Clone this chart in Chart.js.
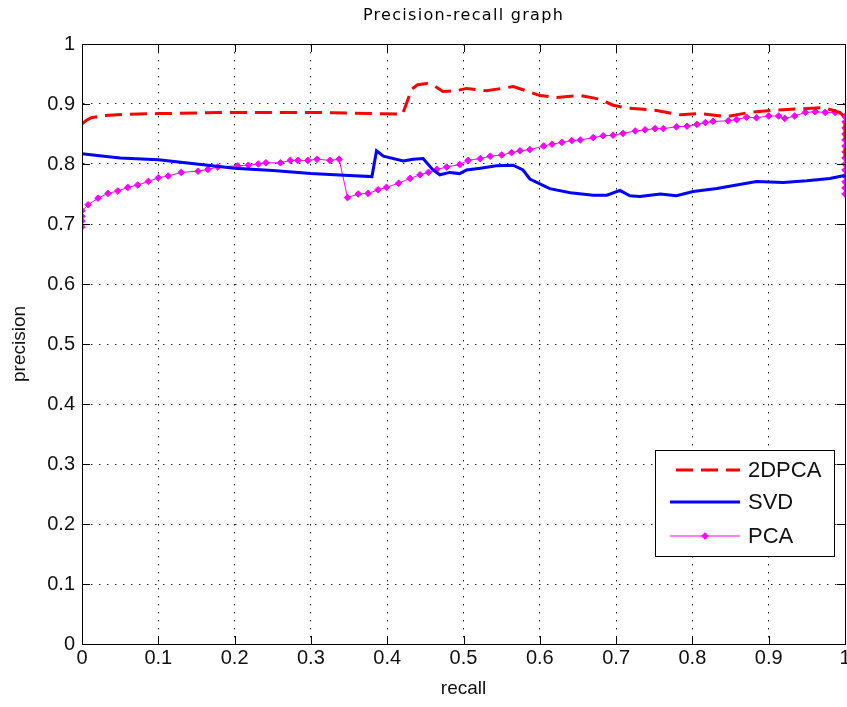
<!DOCTYPE html>
<html>
<head>
<meta charset="utf-8">
<title>Precision-recall graph</title>
<script src="https://cdn.jsdelivr.net/npm/chart.js"></script>
<style>
    html, body { margin: 0; padding: 0; background: #fff; }
    #wrap { position: relative; width: 847px; height: 707px; }
</style>
</head>
<body>
<div id="wrap"><canvas id="pr"></canvas></div>
<script>
// values
const recall2d = [0, 0.005, 0.012, 0.03, 0.06, 0.1, 0.15, 0.2, 0.25, 0.3, 0.35, 0.38, 0.42, 0.425, 0.432, 0.44, 0.452, 0.462, 0.473, 0.49, 0.504, 0.53, 0.55, 0.565, 0.587, 0.6, 0.622, 0.653, 0.679, 0.696, 0.714, 0.74, 0.753, 0.784, 0.81, 0.845, 0.875, 0.91, 0.941, 0.972, 0.993, 1, 1];
const prec2d   = [0.867, 0.872, 0.877, 0.881, 0.883, 0.884, 0.885, 0.886, 0.886, 0.886, 0.885, 0.884, 0.883, 0.9, 0.925, 0.932, 0.934, 0.93, 0.921, 0.922, 0.926, 0.922, 0.926, 0.929, 0.92, 0.914, 0.911, 0.914, 0.908, 0.898, 0.893, 0.891, 0.889, 0.882, 0.884, 0.879, 0.886, 0.89, 0.892, 0.894, 0.886, 0.878, 0.81];

const recallSvd = [0, 0.02, 0.05, 0.1, 0.15, 0.2, 0.25, 0.3, 0.35, 0.38, 0.386, 0.395, 0.421, 0.434, 0.447, 0.46, 0.469, 0.482, 0.495, 0.504, 0.522, 0.543, 0.565, 0.578, 0.587, 0.613, 0.64, 0.67, 0.688, 0.705, 0.718, 0.731, 0.758, 0.779, 0.801, 0.832, 0.858, 0.884, 0.919, 0.95, 0.98, 0.996, 1];
const precSvd   = [0.817, 0.814, 0.81, 0.807, 0.8, 0.793, 0.789, 0.784, 0.781, 0.779, 0.822, 0.813, 0.805, 0.808, 0.809, 0.79, 0.782, 0.786, 0.784, 0.79, 0.793, 0.797, 0.798, 0.79, 0.775, 0.759, 0.752, 0.748, 0.748, 0.756, 0.747, 0.746, 0.75, 0.747, 0.754, 0.759, 0.765, 0.771, 0.769, 0.772, 0.776, 0.78, 0.78];

const recallPca = [0, 0, 0, 0, 0.008, 0.021, 0.034, 0.047, 0.06, 0.073, 0.087, 0.1, 0.113, 0.13, 0.152, 0.165, 0.178, 0.204, 0.218, 0.231, 0.241, 0.26, 0.273, 0.283, 0.296, 0.308, 0.325, 0.337, 0.348, 0.362, 0.375, 0.388, 0.399, 0.415, 0.43, 0.443, 0.454, 0.465, 0.478, 0.495, 0.506, 0.522, 0.535, 0.55, 0.563, 0.574, 0.587, 0.605, 0.616, 0.629, 0.642, 0.653, 0.67, 0.683, 0.696, 0.709, 0.725, 0.738, 0.751, 0.762, 0.779, 0.793, 0.806, 0.817, 0.827, 0.847, 0.858, 0.871, 0.884, 0.9, 0.913, 0.921, 0.934, 0.948, 0.961, 0.974, 0.987, 1,
                   1, 1, 1, 1, 1, 1, 1, 1, 1, 1, 1, 1, 1];
const precPca   = [0.695, 0.705, 0.713, 0.722, 0.732, 0.743, 0.751, 0.755, 0.761, 0.765, 0.771, 0.777, 0.78, 0.786, 0.788, 0.791, 0.795, 0.797, 0.798, 0.8, 0.802, 0.802, 0.806, 0.806, 0.806, 0.808, 0.806, 0.808, 0.744, 0.75, 0.751, 0.757, 0.761, 0.768, 0.776, 0.782, 0.786, 0.791, 0.795, 0.799, 0.806, 0.809, 0.813, 0.815, 0.819, 0.822, 0.824, 0.83, 0.833, 0.836, 0.839, 0.84, 0.844, 0.847, 0.848, 0.851, 0.855, 0.857, 0.859, 0.859, 0.862, 0.863, 0.866, 0.869, 0.871, 0.872, 0.874, 0.878, 0.877, 0.88, 0.88, 0.876, 0.88, 0.886, 0.887, 0.886, 0.886, 0.879,
                   0.87, 0.86, 0.85, 0.84, 0.83, 0.82, 0.81, 0.8, 0.79, 0.78, 0.77, 0.76, 0.75];

const seriesNames = ['2DPCA', 'SVD', 'PCA'];
const tickValues = [0, 0.1, 0.2, 0.3, 0.4, 0.5, 0.6, 0.7, 0.8, 0.9, 1];

function pts(xs, ys) {
    return xs.map((x, i) => ({x: x, y: ys[i]}));
}

const FONT = '"Liberation Sans", Arial, Helvetica, sans-serif';
const noPad = () => ({left: 0, right: 0, top: 0, bottom: 0});

// title drawn by hand so it can get a bit of letter spacing like the original
const titlePlugin = {
    id: 'mTitle',
    afterDraw(chart) {
        const ctx = chart.ctx;
        const a = chart.chartArea;
        ctx.save();
        ctx.font = '16px "DejaVu Sans", sans-serif';
        ctx.letterSpacing = '1.3px';
        ctx.fillStyle = '#000';
        ctx.textAlign = 'center';
        ctx.textBaseline = 'alphabetic';
        ctx.fillText('Precision-recall graph', (a.left + a.right) / 2, 20);
        ctx.restore();
    }
};

// box round the axes and inward ticks on all four sides
const boxPlugin = {
    id: 'mBox',
    afterDatasetsDraw(chart) {
        const ctx = chart.ctx;
        const a = chart.chartArea;
        const xs = chart.scales.x, ys = chart.scales.y;
        const tl = 8;
        ctx.save();
        ctx.strokeStyle = '#000';
        ctx.lineWidth = 1;
        ctx.setLineDash([]);
        ctx.beginPath();
        tickValues.forEach(v => {
            const px = Math.round(xs.getPixelForValue(v)) + 0.5;
            ctx.moveTo(px, a.bottom); ctx.lineTo(px, a.bottom - tl);
            ctx.moveTo(px, a.top); ctx.lineTo(px, a.top + tl);
            const py = Math.round(ys.getPixelForValue(v)) + 0.5;
            ctx.moveTo(a.left, py); ctx.lineTo(a.left + tl, py);
            ctx.moveTo(a.right, py); ctx.lineTo(a.right - tl, py);
        });
        ctx.stroke();
        ctx.strokeRect(Math.round(a.left) + 0.5, Math.round(a.top) + 0.5,
                       Math.round(a.right - a.left), Math.round(a.bottom - a.top));
        ctx.restore();
    }
};

// matlab style legend box in the lower right of the axes
const legendPlugin = {
    id: 'mLegend',
    afterDraw(chart) {
        const ctx = chart.ctx;
        const x0 = 655, y0 = 450, w = 179, h = 106;
        const rows = [20, 52, 86];
        ctx.save();
        ctx.fillStyle = '#fff';
        ctx.fillRect(x0, y0, w, h);
        ctx.strokeStyle = '#000';
        ctx.lineWidth = 1;
        ctx.strokeRect(x0 + 0.5, y0 + 0.5, w, h);
        chart.data.datasets.forEach((ds, i) => {
            const y = y0 + rows[i];
            ctx.save();
            ctx.strokeStyle = ds.borderColor;
            ctx.lineWidth = ds.borderWidth;
            ctx.setLineDash(ds.borderDash || []);
            ctx.lineDashOffset = -6;
            ctx.beginPath();
            ctx.moveTo(670, y);
            ctx.lineTo(740, y);
            ctx.stroke();
            ctx.restore();
            if (ds.pointRadius > 0) {
                ctx.fillStyle = ds.pointBackgroundColor;
                ctx.strokeStyle = ds.pointBorderColor;
                ctx.lineWidth = 1;
                Chart.helpers.drawPoint(ctx, {pointStyle: ds.pointStyle, radius: ds.pointRadius, borderWidth: 1, rotation: 0}, 705, y);
            }
            ctx.fillStyle = '#111';
            ctx.font = '22px ' + FONT;
            ctx.textBaseline = 'middle';
            ctx.textAlign = 'left';
            ctx.fillText(ds.label, 748, y + 1);
        });
        ctx.restore();
    }
};

const bgPlugin = {
    id: 'bg',
    beforeDraw(chart) {
        const ctx = chart.ctx;
        ctx.save();
        ctx.fillStyle = '#fff';
        ctx.fillRect(0, 0, chart.width, chart.height);
        ctx.restore();
    }
};

const gridOpts = {color: '#222', lineWidth: 1, drawTicks: false};
const borderOpts = {display: true, color: '#000', width: 1, dash: [1.5, 6.5]};

new Chart(document.getElementById('pr'), {
    type: 'scatter',
    data: {
        datasets: [
            {
                label: seriesNames[0],
                data: pts(recall2d, prec2d),
                showLine: true,
                borderColor: '#ff0000',
                borderWidth: 3,
                borderDash: [17, 8],
                pointRadius: 0,
                pointHoverRadius: 0,
                tension: 0
            },
            {
                label: seriesNames[1],
                data: pts(recallSvd, precSvd),
                showLine: true,
                borderColor: '#0000ff',
                borderWidth: 3,
                pointRadius: 0,
                pointHoverRadius: 0,
                tension: 0
            },
            {
                label: seriesNames[2],
                data: pts(recallPca, precPca),
                showLine: true,
                borderColor: '#ff00ff',
                borderWidth: 1,
                pointStyle: 'rectRot',
                pointRadius: 3.3,
                pointBorderWidth: 1,
                pointBackgroundColor: '#ff00ff',
                pointBorderColor: '#ff00ff',
                tension: 0
            }
        ]
    },
    options: {
        responsive: true,
        maintainAspectRatio: false,
        animation: false,
        layout: {autoPadding: false, padding: {left: 0, right: 2, top: 44, bottom: 0}},
        plugins: {
            legend: {display: false},
            title: {display: false},
            tooltip: {enabled: false}
        },
        scales: {
            x: {
                type: 'linear',
                min: 0, max: 1,
                grid: gridOpts,
                border: borderOpts,
                afterFit(s) { s.height = 63; s.paddingLeft = 0; s.paddingRight = 0; s.getPadding = noPad; },
                afterBuildTicks(s) { s.ticks = tickValues.map(v => ({value: v})); },
                ticks: {
                    color: '#111',
                    font: {family: FONT, size: 20},
                    padding: 2,
                    maxRotation: 0,
                    autoSkip: false,
                    callback: v => String(Math.round(v * 10) / 10)
                },
                title: {
                    display: true,
                    text: 'recall',
                    color: '#111',
                    font: {family: FONT, size: 19},
                    padding: {top: 2, bottom: 7}
                }
            },
            y: {
                type: 'linear',
                min: 0, max: 1,
                grid: gridOpts,
                border: borderOpts,
                afterFit(s) { s.width = 82; s.paddingTop = 0; s.paddingBottom = 0; s.getPadding = noPad; },
                afterBuildTicks(s) { s.ticks = tickValues.map(v => ({value: v})); },
                ticks: {
                    color: '#111',
                    font: {family: FONT, size: 20},
                    padding: 7,
                    autoSkip: false,
                    callback: v => String(Math.round(v * 10) / 10)
                },
                title: {
                    display: true,
                    text: 'precision',
                    color: '#111',
                    font: {family: FONT, size: 19},
                    padding: {top: 8, bottom: 2}
                }
            }
        }
    },
    plugins: [bgPlugin, boxPlugin, legendPlugin, titlePlugin]
});
</script>
</body>
</html>
